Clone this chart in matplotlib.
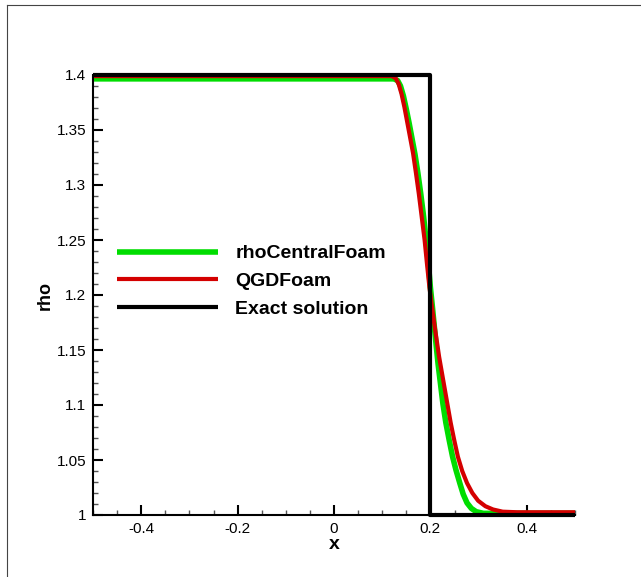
import matplotlib

matplotlib.use("Agg")

import matplotlib.pyplot as plt
from matplotlib.lines import Line2D
from matplotlib.ticker import MultipleLocator

plt.rcParams["font.family"] = ["Liberation Sans", "DejaVu Sans"]

# rhoCentralFoam
x_central = [-0.5, 0.124, 0.132, 0.138, 0.144, 0.150, 0.156, 0.162, 0.168,
             0.174, 0.180, 0.186, 0.191, 0.196, 0.200, 0.204, 0.208, 0.212,
             0.216, 0.221, 0.226, 0.232, 0.239, 0.246, 0.253, 0.261, 0.268,
             0.276, 0.285, 0.295, 0.31, 0.5]
rho_central = [1.3965, 1.3965, 1.395, 1.390, 1.381, 1.369, 1.356, 1.342, 1.328,
               1.311, 1.292, 1.271, 1.250, 1.228, 1.207, 1.190, 1.172, 1.154,
               1.137, 1.119, 1.101, 1.084, 1.068, 1.053, 1.041, 1.029, 1.019,
               1.011, 1.006, 1.003, 1.0015, 1.0015]

# QGDFoam
x_qgd = [-0.5, 0.120, 0.128, 0.134, 0.140, 0.146, 0.152, 0.158, 0.164,
         0.170, 0.176, 0.182, 0.188, 0.193, 0.198, 0.203, 0.208, 0.213,
         0.218, 0.224, 0.230, 0.236, 0.242, 0.249, 0.257, 0.266, 0.276,
         0.287, 0.299, 0.314, 0.330, 0.350, 0.38, 0.5]
rho_qgd = [1.399, 1.399, 1.397, 1.392, 1.383, 1.371, 1.357, 1.343, 1.329,
           1.311, 1.292, 1.271, 1.250, 1.228, 1.207, 1.190, 1.174, 1.159,
           1.144, 1.129, 1.114, 1.099, 1.084, 1.069, 1.053, 1.040, 1.029,
           1.020, 1.013, 1.008, 1.005, 1.003, 1.0025, 1.0025]

# Exact solution
x_exact = [-0.5, 0.2, 0.2, 0.5]
rho_exact = [1.4, 1.4, 1.0, 1.0]

x_ticks = [-0.4, -0.2, 0, 0.2, 0.4]
x_tick_labels = ["-0.4", "-0.2", "0", "0.2", "0.4"]
y_ticks = [1, 1.05, 1.1, 1.15, 1.2, 1.25, 1.3, 1.35, 1.4]
y_tick_labels = ["1", "1.05", "1.1", "1.15", "1.2", "1.25", "1.3", "1.35", "1.4"]

fig = plt.figure(figsize=(6.41, 5.77), dpi=100)
ax = fig.add_axes([93 / 641, 1 - 515 / 577, 482 / 641, 440 / 577])

ax.plot(x_central, rho_central, color="#00dd00", lw=4.0, clip_on=False,
        label="rhoCentralFoam", solid_capstyle="butt")
ax.plot(x_qgd, rho_qgd, color="#d40000", lw=3.0, clip_on=False,
        label="QGDFoam", solid_capstyle="butt")
ax.plot(x_exact, rho_exact, color="black", lw=3.0, clip_on=False,
        label="Exact solution", solid_capstyle="butt")

ax.set_xlim(-0.5, 0.5)
ax.set_ylim(1.0, 1.4)

ax.spines["top"].set_visible(False)
ax.spines["right"].set_visible(False)
ax.spines["left"].set_linewidth(1.5)
ax.spines["bottom"].set_linewidth(1.5)

ax.xaxis.set_minor_locator(MultipleLocator(0.05))
ax.yaxis.set_minor_locator(MultipleLocator(0.01))

ax.set_xticks(x_ticks)
ax.set_xticklabels(x_tick_labels)
ax.set_yticks(y_ticks)
ax.set_yticklabels(y_tick_labels)

ax.tick_params(which="major", direction="in", length=7, width=1.5,
               labelsize=11)
ax.tick_params(which="minor", direction="in", length=3.5, width=1.0,
               color="#555555")
ax.tick_params(axis="y", which="major", pad=5)
ax.tick_params(axis="x", which="major", pad=5)

ax.set_xlabel("x", fontsize=14, fontweight="bold", labelpad=0)
ax.set_ylabel("rho", fontsize=13, fontweight="bold", labelpad=2)

ax.legend(loc="upper left", bbox_to_anchor=(0.05, 0.614), frameon=False,
          handlelength=5.2, handletextpad=0.88,
          labelspacing=0.52, borderpad=0, borderaxespad=0,
          prop={"weight": "bold", "size": 14})

# outer frame
fig.add_artist(Line2D([7 / 641, 7 / 641], [0, 1 - 5 / 577], color="#444444",
                      lw=0.8, transform=fig.transFigure))
fig.add_artist(Line2D([7 / 641, 1], [1 - 5 / 577, 1 - 5 / 577], color="#444444",
                      lw=0.8, transform=fig.transFigure))

fig.savefig("out.png", dpi=100)
